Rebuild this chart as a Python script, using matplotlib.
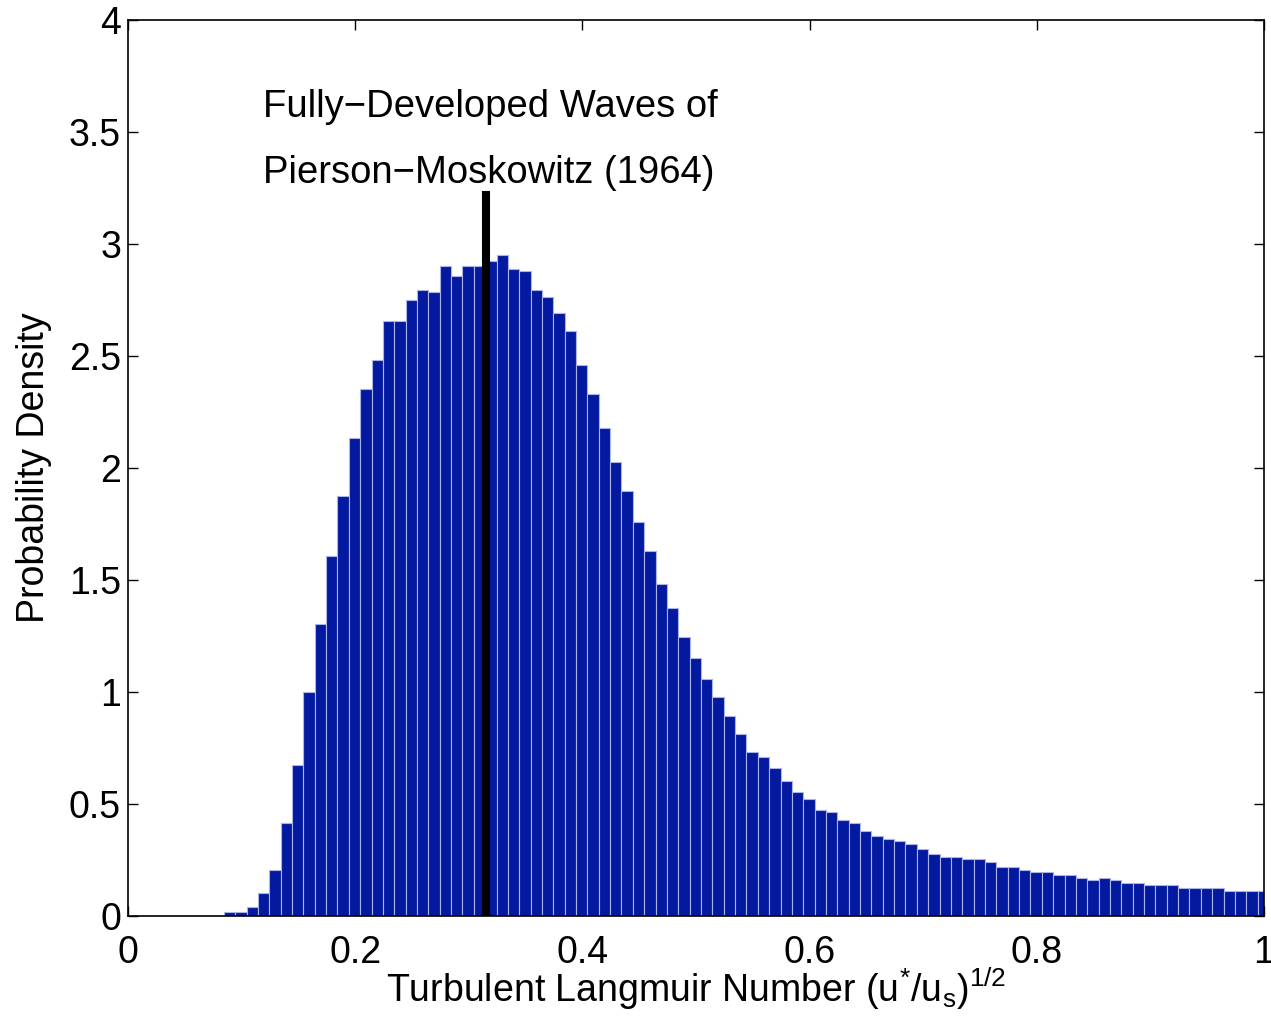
import matplotlib
matplotlib.use("Agg")
import matplotlib.pyplot as plt
import numpy as np

plt.rcParams['font.family'] = ['Liberation Sans', 'DejaVu Sans']
plt.rcParams['mathtext.fontset'] = 'custom'
plt.rcParams['mathtext.rm'] = 'Liberation Sans'
plt.rcParams['mathtext.it'] = 'Liberation Sans'
plt.rcParams['mathtext.bf'] = 'Liberation Sans:bold'

# histogram of turbulent Langmuir number, bins of width 0.01
bin_width = 0.01
first_center = 0.0894
density = [
    0.019, 0.019, 0.041, 0.101, 0.205, 0.417, 0.672, 1.000, 1.302, 1.607,
    1.876, 2.132, 2.354, 2.482, 2.658, 2.658, 2.750, 2.796, 2.786, 2.903,
    2.857, 2.903, 2.903, 2.925, 2.949, 2.890, 2.878, 2.796, 2.762, 2.692,
    2.612, 2.458, 2.330, 2.179, 2.027, 1.899, 1.757, 1.631, 1.481, 1.373,
    1.246, 1.150, 1.059, 0.978, 0.894, 0.8125, 0.731, 0.708, 0.661, 0.603,
    0.555, 0.521, 0.475, 0.463, 0.427, 0.416, 0.381, 0.357, 0.345, 0.335,
    0.322, 0.299, 0.275, 0.263, 0.263, 0.253, 0.253, 0.241, 0.218, 0.219,
    0.207, 0.195, 0.195, 0.183, 0.183, 0.171, 0.159, 0.171, 0.159, 0.149,
    0.149, 0.137, 0.137, 0.137, 0.125, 0.125, 0.125, 0.125, 0.113, 0.113,
    0.113, 0.113,
]
bin_centers = first_center + bin_width * np.arange(len(density))

# Pierson-Moskowitz fully developed sea value
pm_la = 0.3155
pm_top = 3.22

xticks = [0, 0.2, 0.4, 0.6, 0.8, 1]
xtick_labels = ['0', '0.2', '0.4', '0.6', '0.8', '1']
yticks = [0, 0.5, 1, 1.5, 2, 2.5, 3, 3.5, 4]
ytick_labels = ['0', '0.5', '1', '1.5', '2', '2.5', '3', '3.5', '4']

fig = plt.figure(figsize=(12.71, 10.19), dpi=100)
ax = fig.add_axes([0.1007, 0.1011, 0.8938, 0.8793])

ax.bar(bin_centers, density, width=bin_width, color='#0319a0',
       edgecolor='#aab3e3', linewidth=0.8, zorder=2)
ax.plot([pm_la, pm_la], [0, pm_top], color='black', linewidth=5.8, zorder=3)

ax.text(0.1185, 3.567, 'Fully\u2212Developed Waves of', fontsize=27.5, va='baseline')
ax.text(0.1185, 3.272, 'Pierson\u2212Moskowitz (1964)', fontsize=27.5, va='baseline')

ax.set_xlim(0, 1)
ax.set_ylim(0, 4)
ax.set_xticks(xticks)
ax.set_xticklabels(xtick_labels)
ax.set_yticks(yticks)
ax.set_yticklabels(ytick_labels)
ax.tick_params(direction='in', length=7, width=1, top=True, right=True,
               labelsize=27)
ax.tick_params(axis='x', pad=14)
ax.tick_params(axis='y', pad=5)
for s in ax.spines.values():
    s.set_linewidth(1.2)

ax.set_xlabel('Turbulent Langmuir Number (u$^{*}$/u$_{s}$)$^{1/2}$', fontsize=27,
              labelpad=-4)
ax.set_ylabel('Probability Density', fontsize=27, labelpad=12)

fig.savefig('out.png', dpi=100)
